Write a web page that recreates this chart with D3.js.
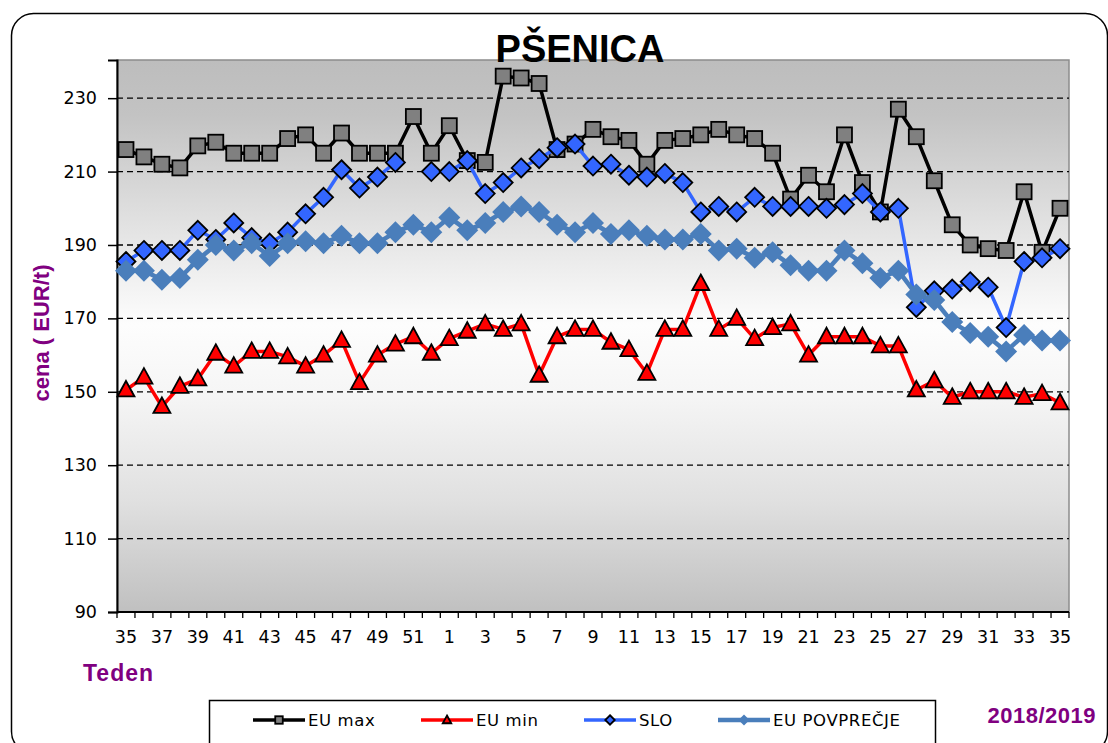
<!DOCTYPE html>
<html>
<head>
<meta charset="utf-8">
<script src="https://cdn.jsdelivr.net/npm/d3@7"></script>
<style>
  body { margin: 0; background: #ffffff; }
  svg { display: block; }
  .tick text { font-family: "DejaVu Sans", sans-serif; }
</style>
</head>
<body>
<script>
//week labels (2018/2019 season, week 35 to week 35)
var weeks = [35,36,37,38,39,40,41,42,43,44,45,46,47,48,49,50,51,52,
    1,2,3,4,5,6,7,8,9,10,11,12,13,14,15,16,17,18,19,20,21,22,23,24,25,26,27,28,29,30,31,32,33,34,35];

//series values (EUR/t)
var euMax = [216,214,212,211,217,218,215,215,215,219,220,215,220.5,215,215,215,225,215,222.5,213,212.5,
    236,235.5,234,216,217.5,221.5,219.5,218.5,212,218.5,219,220,221.5,220,219,215,202.5,209,204.5,
    220,207,199,227,219.5,207.5,195.5,190,189,188.5,204.5,188,200];
var euMin = [150.5,154,146,151.5,153.5,160.5,157,161,161,159.5,157,160,164,152.5,160,163,165,160.5,164.5,
    166.5,168.5,167,168.5,154.5,165,167,167,163.5,161.5,155,167,167,179.5,167,170,164.5,167.5,168.5,
    160,165,165,165,162.5,162.5,150.5,153,148.5,150,150,150,148.5,149.5,147];
var slo = [185.5,188.5,188.5,188.5,194,191.5,196,192,190.5,193.5,198.5,203,210.5,205.5,208.5,212.5,null,
    210,210,213,204,207,211,213.5,216.5,217.5,211.5,212,209,208.5,209.5,207,199,200.5,199,203,200.5,
    200.5,200.5,200,201,204,199,200,173,177.5,178,180,178.5,167.5,185.5,186.5,189];
var euAvg = [183,183,180.5,181,186,190,188.5,190.5,187,190.5,191,190.5,192.5,190.5,190.5,193.5,195.5,
    193.5,197.5,194,196,199,200.5,199,195.5,193.5,196,193,194,192.5,191.5,191.5,193,188.5,189,186.5,
    188,184.5,183,183,188.5,185,181,183,176.5,175,169,166,165,161,165.5,164,164];

var yTicks = [90,110,130,150,170,190,210,230];

var width = 1108,
    height = 743;

var svg = d3.select("body")
    .append("svg")
    .attr("width", width)
    .attr("height", height);

//plot area
var plotLeft = 117, plotRight = 1069, plotTop = 60, plotBottom = 612;

var x = d3.scaleBand()
    .domain(d3.range(weeks.length))
    .range([plotLeft, plotRight])
    .padding(0);

var y = d3.scaleLinear()
    .domain([90, 240.4])
    .range([plotBottom, plotTop]);

function cx(i){ return x(i) + x.bandwidth() / 2; }

//outer rounded frame
svg.append("rect")
    .attr("x", 11.5)
    .attr("y", 13.5)
    .attr("width", 1096)
    .attr("height", 740)
    .attr("rx", 22)
    .attr("fill", "none")
    .attr("stroke", "#000")
    .attr("stroke-width", 1.5);

//background gradient of plot area
var grad = svg.append("defs").append("linearGradient")
    .attr("id", "bg")
    .attr("x1", 0).attr("y1", 0).attr("x2", 0).attr("y2", 1);
[[0, "#bdbdbd"], [0.1, "#c3c3c3"], [0.3, "#e2e2e2"], [0.48, "#fdfdfd"], [0.6, "#f6f6f6"], [0.8, "#e0e0e0"], [1, "#c0c0c0"]]
    .forEach(function(s){
        grad.append("stop").attr("offset", s[0]).attr("stop-color", s[1]);
    });

svg.append("rect")
    .attr("x", plotLeft)
    .attr("y", plotTop)
    .attr("width", plotRight - plotLeft)
    .attr("height", plotBottom - plotTop)
    .attr("fill", "url(#bg)")
    .attr("stroke", "#8c8c8c")
    .attr("stroke-width", 1.5);

//dashed gridlines
svg.selectAll(".grid")
    .data(yTicks.filter(function(d){ return d > 90; }))
    .enter()
    .append("line")
    .attr("class", "grid")
    .attr("x1", plotLeft)
    .attr("x2", plotRight)
    .attr("y1", function(d){ return y(d); })
    .attr("y2", function(d){ return y(d); })
    .attr("stroke", "#000")
    .attr("stroke-width", 1.3)
    .attr("stroke-dasharray", "6,4");

//y axis
var yAxis = svg.append("g")
    .attr("transform", "translate(" + plotLeft + ",0)")
    .call(d3.axisLeft(y).tickValues(yTicks).tickSize(9).tickPadding(11));
yAxis.select(".domain").attr("stroke", "#000").attr("stroke-width", 2);
yAxis.selectAll(".tick line").attr("stroke", "#000").attr("stroke-width", 1.5);
yAxis.selectAll(".tick text").attr("font-size", "17.5px").attr("fill", "#000");

//x axis: tick marks at category boundaries, labels every second week
var xAxis = svg.append("g")
    .attr("transform", "translate(0," + plotBottom + ")");
xAxis.append("line")
    .attr("x1", plotLeft).attr("x2", plotRight)
    .attr("stroke", "#000").attr("stroke-width", 2);
xAxis.selectAll(".xt")
    .data(d3.range(weeks.length + 1))
    .enter()
    .append("line")
    .attr("class", "xt")
    .attr("x1", function(i){ return plotLeft + i * x.bandwidth(); })
    .attr("x2", function(i){ return plotLeft + i * x.bandwidth(); })
    .attr("y1", 0).attr("y2", 6)
    .attr("stroke", "#000").attr("stroke-width", 1.3);
xAxis.selectAll(".xl")
    .data(d3.range(0, weeks.length, 2))
    .enter()
    .append("text")
    .attr("class", "xl")
    .attr("x", function(i){ return cx(i); })
    .attr("y", 31)
    .attr("text-anchor", "middle")
    .attr("font-family", "DejaVu Sans, sans-serif")
    .attr("font-size", "17.5px")
    .text(function(i){ return weeks[i]; });

//series definitions
var series = [
    {name: "EU max", values: euMax, color: "#000000", width: 3.5, marker: "square"},
    {name: "EU min", values: euMin, color: "#ff0000", width: 3.5, marker: "triangle"},
    {name: "SLO", values: slo, color: "#3366ff", width: 3.5, marker: "diamond"},
    {name: "EU POVPREČJE", values: euAvg, color: "#4a7ebb", width: 4.5, marker: "bigdiamond"}
];

var line = d3.line()
    .defined(function(d){ return d != null; })
    .x(function(d, i){ return cx(i); })
    .y(function(d){ return y(d); });

function drawMarker(g, type, color, px, py, scale){
    var s = scale || 1;
    if (type === "square") {
        g.append("rect")
            .attr("x", px - 7.5 * s).attr("y", py - 7.5 * s)
            .attr("width", 15 * s).attr("height", 15 * s)
            .attr("fill", "#808080").attr("stroke", "#000").attr("stroke-width", 1.8);
    } else if (type === "triangle") {
        g.append("path")
            .attr("d", "M" + px + "," + (py - 9 * s) + "L" + (px + 8.5 * s) + "," + (py + 6.5 * s) + "L" + (px - 8.5 * s) + "," + (py + 6.5 * s) + "Z")
            .attr("fill", color).attr("stroke", "#000").attr("stroke-width", 1.8);
    } else if (type === "diamond") {
        g.append("path")
            .attr("d", "M" + px + "," + (py - 9.5 * s) + "L" + (px + 9.5 * s) + "," + py + "L" + px + "," + (py + 9.5 * s) + "L" + (px - 9.5 * s) + "," + py + "Z")
            .attr("fill", color).attr("stroke", "#000").attr("stroke-width", 1.8);
    } else {
        g.append("path")
            .attr("d", "M" + px + "," + (py - 11 * s) + "L" + (px + 11 * s) + "," + py + "L" + px + "," + (py + 11 * s) + "L" + (px - 11 * s) + "," + py + "Z")
            .attr("fill", color);
    }
}

series.forEach(function(s){
    var g = svg.append("g").attr("class", "series");
    g.append("path")
        .datum(s.values)
        .attr("d", line)
        .attr("fill", "none")
        .attr("stroke", s.color)
        .attr("stroke-width", s.width)
        .attr("stroke-linejoin", "round");
    s.values.forEach(function(v, i){
        if (v == null) return;
        drawMarker(g, s.marker, s.color, cx(i), y(v));
    });
});

//title
svg.append("text")
    .attr("x", 580)
    .attr("y", 62)
    .attr("text-anchor", "middle")
    .attr("font-family", "Liberation Sans, Arial, sans-serif")
    .attr("font-weight", "bold")
    .attr("font-size", "38px")
    .text("PŠENICA");

//axis titles
svg.append("text")
    .attr("transform", "translate(49,333) rotate(-90)")
    .attr("text-anchor", "middle")
    .attr("font-family", "Liberation Sans, Arial, sans-serif")
    .attr("font-weight", "bold")
    .attr("font-size", "22px")
    .attr("fill", "#800080")
    .text("cena ( EUR/t)");

svg.append("text")
    .attr("x", 83)
    .attr("y", 681)
    .attr("font-family", "Liberation Sans, Arial, sans-serif")
    .attr("font-weight", "bold")
    .attr("font-size", "23px")
    .attr("letter-spacing", "1px")
    .attr("fill", "#800080")
    .text("Teden");

svg.append("text")
    .attr("x", 1096)
    .attr("y", 723)
    .attr("text-anchor", "end")
    .attr("font-family", "Liberation Sans, Arial, sans-serif")
    .attr("font-weight", "bold")
    .attr("font-size", "22px")
    .attr("letter-spacing", "0.5px")
    .attr("fill", "#800080")
    .text("2018/2019");

//legend
var legend = svg.append("g");
legend.append("rect")
    .attr("x", 209.5).attr("y", 700.5)
    .attr("width", 726).attr("height", 44)
    .attr("fill", "#fff").attr("stroke", "#000").attr("stroke-width", 1.5);

var legendX = [253, 421, 584, 718];
series.forEach(function(s, k){
    var lx = legendX[k], ly = 720;
    legend.append("line")
        .attr("x1", lx).attr("x2", lx + 52)
        .attr("y1", ly).attr("y2", ly)
        .attr("stroke", s.color).attr("stroke-width", s.width);
    drawMarker(legend, s.marker, s.color, lx + 26, ly, 0.5);
    legend.append("text")
        .attr("x", lx + 55)
        .attr("y", ly + 6)
        .attr("font-family", "DejaVu Sans, sans-serif")
        .attr("font-size", "16.5px")
        .attr("letter-spacing", "0.6px")
        .text(s.name);
});
</script>
</body>
</html>
